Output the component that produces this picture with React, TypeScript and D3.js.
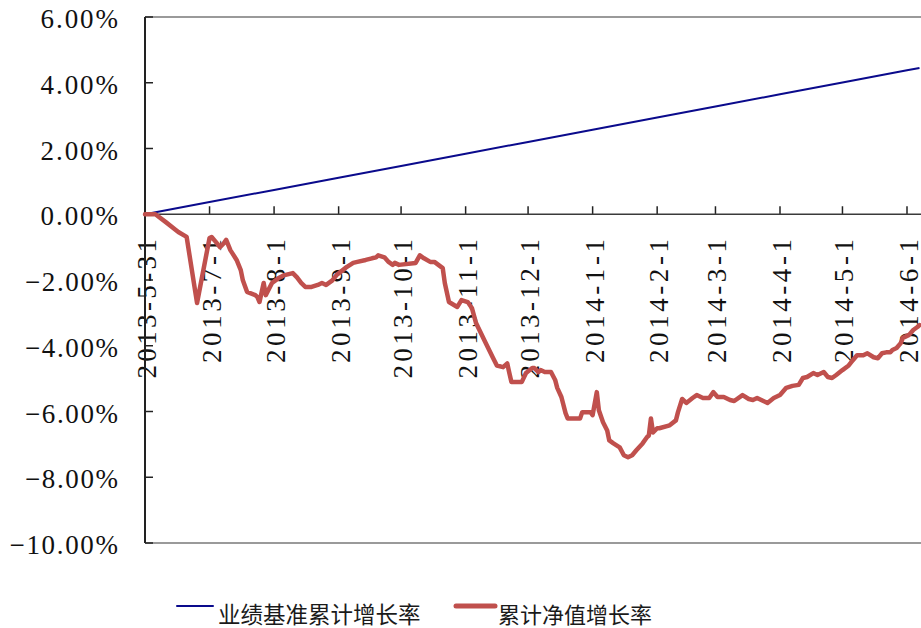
import { useEffect, useRef } from 'react'
import * as d3 from 'd3'

const W = 921
const H = 628
const PLOT = { left: 145, right: 921, top: 17, bottom: 543 }
const COLOR_BENCH = '#0a0a8c'
const COLOR_NAV = '#c0504d'
const LABEL_FONT = "'Liberation Serif', 'Times New Roman', serif"
const CJK_FONT = "'Noto Sans CJK SC', 'Noto Sans', sans-serif"
const CHAR_W = 15.5

const Y_TICKS = [6, 4, 2, 0, -2, -4, -6, -8, -10]

const X_TICKS = [
  '2013-05-31', '2013-07-01', '2013-08-01', '2013-09-01', '2013-10-01',
  '2013-11-01', '2013-12-01', '2014-01-01', '2014-02-01', '2014-03-01',
  '2014-04-01', '2014-05-01', '2014-06-01',
]

const LEGEND = ['业绩基准累计增长率', '累计净值增长率']

// 业绩基准累计增长率 (%)
const BENCH: [string, number][] = [
  ['2013-05-31', 0], ['2013-07-01', 0.37], ['2013-08-01', 0.74], ['2013-09-01', 1.11],
  ['2013-10-01', 1.47], ['2013-11-01', 1.84], ['2013-12-01', 2.2], ['2014-01-01', 2.57],
  ['2014-02-01', 2.94], ['2014-03-01', 3.28], ['2014-04-01', 3.65], ['2014-05-01', 4.01],
  ['2014-06-01', 4.38], ['2014-06-07', 4.45],
]

// 累计净值增长率 (%)
const NAV: [string, number][] = [
  ['2013-05-31', 0], ['2013-06-05', 0], ['2013-06-10', -0.24], ['2013-06-16', -0.54],
  ['2013-06-20', -0.69], ['2013-06-25', -2.7], ['2013-07-01', -0.72], ['2013-07-02', -0.69],
  ['2013-07-04', -0.84], ['2013-07-06', -1.0], ['2013-07-08', -0.87], ['2013-07-09', -0.78],
  ['2013-07-11', -1.09], ['2013-07-12', -1.19], ['2013-07-14', -1.39], ['2013-07-16', -1.7],
  ['2013-07-17', -2.01], ['2013-07-19', -2.36], ['2013-07-23', -2.46], ['2013-07-24', -2.52],
  ['2013-07-25', -2.67], ['2013-07-27', -2.09], ['2013-07-28', -2.46], ['2013-07-31', -2.09],
  ['2013-08-03', -1.95], ['2013-08-06', -1.85], ['2013-08-10', -1.79], ['2013-08-12', -1.92],
  ['2013-08-14', -2.09], ['2013-08-16', -2.21], ['2013-08-19', -2.21], ['2013-08-22', -2.15],
  ['2013-08-24', -2.09], ['2013-08-26', -2.15], ['2013-08-29', -2.01], ['2013-08-31', -1.85],
  ['2013-09-03', -1.7], ['2013-09-05', -1.6], ['2013-09-08', -1.48], ['2013-09-10', -1.45],
  ['2013-09-14', -1.39], ['2013-09-17', -1.34], ['2013-09-19', -1.31], ['2013-09-20', -1.25],
  ['2013-09-23', -1.31], ['2013-09-25', -1.45], ['2013-09-27', -1.54], ['2013-09-28', -1.48],
  ['2013-09-30', -1.54], ['2013-10-08', -1.48], ['2013-10-10', -1.25], ['2013-10-12', -1.34],
  ['2013-10-15', -1.45], ['2013-10-17', -1.45], ['2013-10-21', -1.64], ['2013-10-22', -2.09],
  ['2013-10-24', -2.67], ['2013-10-28', -2.82], ['2013-10-30', -2.61], ['2013-11-02', -2.67],
  ['2013-11-04', -2.85], ['2013-11-06', -3.31], ['2013-11-10', -3.83], ['2013-11-14', -4.35],
  ['2013-11-16', -4.6], ['2013-11-19', -4.65], ['2013-11-21', -4.54], ['2013-11-22', -4.83],
  ['2013-11-23', -5.1], ['2013-11-25', -5.1], ['2013-11-28', -5.1], ['2013-11-30', -4.83],
  ['2013-12-03', -4.68], ['2013-12-04', -4.68], ['2013-12-06', -4.8], ['2013-12-07', -4.74],
  ['2013-12-09', -4.8], ['2013-12-12', -4.8], ['2013-12-14', -5.04], ['2013-12-15', -5.28],
  ['2013-12-17', -5.56], ['2013-12-19', -6.05], ['2013-12-20', -6.21], ['2013-12-26', -6.21],
  ['2013-12-27', -6.02], ['2013-12-31', -6.02], ['2014-01-01', -6.11], ['2014-01-03', -5.41],
  ['2014-01-04', -5.96], ['2014-01-06', -6.33], ['2014-01-08', -6.58], ['2014-01-09', -6.88],
  ['2014-01-11', -6.97], ['2014-01-14', -7.09], ['2014-01-16', -7.33], ['2014-01-18', -7.39],
  ['2014-01-20', -7.33], ['2014-01-22', -7.18], ['2014-01-25', -6.97], ['2014-01-27', -6.79],
  ['2014-01-28', -6.73], ['2014-01-29', -6.21], ['2014-01-30', -6.64], ['2014-02-01', -6.51],
  ['2014-02-02', -6.51], ['2014-02-07', -6.42], ['2014-02-10', -6.27], ['2014-02-11', -6.02],
  ['2014-02-13', -5.62], ['2014-02-15', -5.74], ['2014-02-18', -5.59], ['2014-02-20', -5.5],
  ['2014-02-23', -5.59], ['2014-02-26', -5.59], ['2014-02-28', -5.41], ['2014-03-02', -5.56],
  ['2014-03-05', -5.56], ['2014-03-08', -5.65], ['2014-03-10', -5.68], ['2014-03-14', -5.5],
  ['2014-03-17', -5.62], ['2014-03-19', -5.65], ['2014-03-21', -5.59], ['2014-03-23', -5.65],
  ['2014-03-26', -5.74], ['2014-03-29', -5.59], ['2014-04-01', -5.5], ['2014-04-04', -5.28],
  ['2014-04-07', -5.22], ['2014-04-10', -5.19], ['2014-04-12', -4.98], ['2014-04-14', -4.95],
  ['2014-04-17', -4.83], ['2014-04-19', -4.89], ['2014-04-22', -4.8], ['2014-04-24', -4.95],
  ['2014-04-26', -4.98], ['2014-04-28', -4.89], ['2014-05-01', -4.74], ['2014-05-04', -4.6],
  ['2014-05-06', -4.44], ['2014-05-08', -4.29], ['2014-05-11', -4.29], ['2014-05-13', -4.23],
  ['2014-05-16', -4.35], ['2014-05-18', -4.38], ['2014-05-20', -4.23], ['2014-05-22', -4.2],
  ['2014-05-24', -4.2], ['2014-05-25', -4.13], ['2014-05-27', -4.07], ['2014-05-29', -3.92],
  ['2014-05-30', -3.76], ['2014-06-02', -3.67], ['2014-06-04', -3.52], ['2014-06-06', -3.43],
  ['2014-06-07', -3.37],
]

const parse = d3.timeParse('%Y-%m-%d')
const fmtDate = d3.timeFormat('%Y-%-m-%-d')
const fmtPct = (v: number) => d3.format('.2f')(v) + '%'

export default function App() {
  const ref = useRef<SVGSVGElement>(null)

  useEffect(() => {
    if (!ref.current) return
    const svg = d3.select(ref.current)
    svg.selectAll('*').remove()

    const x = d3.scaleTime()
      .domain([parse('2013-05-31')!, parse('2014-06-01')!])
      .range([PLOT.left, 907])

    const y = d3.scaleLinear()
      .domain([-10, 6])
      .range([PLOT.bottom, PLOT.top])

    const y0 = y(0)

    // ── Frame ─────────────────────────────────────────────────────────────
    svg.append('line')
      .attr('x1', PLOT.left).attr('x2', PLOT.right)
      .attr('y1', PLOT.top).attr('y2', PLOT.top)
      .attr('stroke', '#9a9a9a').attr('stroke-width', 2)
    svg.append('line')
      .attr('x1', PLOT.left).attr('x2', PLOT.right)
      .attr('y1', PLOT.bottom).attr('y2', PLOT.bottom)
      .attr('stroke', '#9a9a9a').attr('stroke-width', 2)

    // ── Y axis ────────────────────────────────────────────────────────────
    const yG = svg.append('g')
    yG.selectAll('line.tick')
      .data(Y_TICKS)
      .join('line')
      .attr('class', 'tick')
      .attr('x1', PLOT.left).attr('x2', PLOT.left + 8)
      .attr('y1', d => y(d)).attr('y2', d => y(d))
      .attr('stroke', '#222').attr('stroke-width', 1.5)
    yG.selectAll('text')
      .data(Y_TICKS)
      .join('text')
      .attr('x', 118)
      .attr('y', d => y(d) + 2)
      .attr('text-anchor', 'end')
      .attr('dominant-baseline', 'central')
      .style('font-family', LABEL_FONT)
      .style('font-size', '27px')
      .attr('fill', '#111')
      .attr('lengthAdjust', 'spacing')
      .attr('textLength', d => fmtPct(d).length * CHAR_W)
      .text(d => fmtPct(d))

    // ── X axis (at 0%) ────────────────────────────────────────────────────
    const xTicks = X_TICKS.map(s => parse(s)!)
    const xG = svg.append('g')
    xG.selectAll('line')
      .data(xTicks.slice(1))
      .join('line')
      .attr('x1', d => x(d)).attr('x2', d => x(d))
      .attr('y1', y0).attr('y2', y0 - 8)
      .attr('stroke', '#222').attr('stroke-width', 1.5)
    xG.selectAll('text')
      .data(xTicks)
      .join('text')
      .attr('transform', d => `translate(${x(d) + 2},239) rotate(-90)`)
      .attr('text-anchor', 'end')
      .attr('dominant-baseline', 'central')
      .style('font-family', LABEL_FONT)
      .style('font-size', '27px')
      .attr('fill', '#111')
      .attr('lengthAdjust', 'spacing')
      .attr('textLength', d => fmtDate(d).length * CHAR_W)
      .text(d => fmtDate(d))

    svg.append('line')
      .attr('x1', PLOT.left).attr('x2', PLOT.right)
      .attr('y1', y0).attr('y2', y0)
      .attr('stroke', '#3a3a3a').attr('stroke-width', 1.5)
    svg.append('line')
      .attr('x1', PLOT.left).attr('x2', PLOT.left)
      .attr('y1', PLOT.top).attr('y2', PLOT.bottom)
      .attr('stroke', '#222').attr('stroke-width', 2)

    // ── Lines ─────────────────────────────────────────────────────────────
    const line = d3.line<[string, number]>()
      .x(d => x(parse(d[0])!))
      .y(d => y(d[1]))

    svg.append('path')
      .datum(BENCH)
      .attr('d', line)
      .attr('fill', 'none')
      .attr('stroke', COLOR_BENCH)
      .attr('stroke-width', 2)

    svg.append('path')
      .datum(NAV)
      .attr('d', line)
      .attr('fill', 'none')
      .attr('stroke', COLOR_NAV)
      .attr('stroke-width', 4.5)
      .attr('stroke-linejoin', 'round')
      .attr('stroke-linecap', 'round')

    // ── Legend ────────────────────────────────────────────────────────────
    const legend = [
      { x1: 177, x2: 213, tx: 218, w: 2, color: COLOR_BENCH, label: LEGEND[0], size: 22.5 },
      { x1: 456, x2: 495, tx: 498, w: 5, color: COLOR_NAV, label: LEGEND[1], size: 22 },
    ]
    const lg = svg.append('g')
    lg.selectAll('line')
      .data(legend)
      .join('line')
      .attr('x1', d => d.x1).attr('x2', d => d.x2)
      .attr('y1', 606).attr('y2', 606)
      .attr('stroke', d => d.color)
      .attr('stroke-width', d => d.w)
      .attr('stroke-linecap', 'round')
    lg.selectAll('text')
      .data(legend)
      .join('text')
      .attr('x', d => d.tx)
      .attr('y', 623)
      .style('font-family', CJK_FONT)
      .style('font-size', d => `${d.size}px`)
      .attr('fill', '#1a1a1a')
      .text(d => d.label)
  }, [])

  return (
    <svg
      ref={ref}
      width={W}
      height={H}
      viewBox={`0 0 ${W} ${H}`}
      style={{ position: 'absolute', left: 0, top: 0, background: '#fff', display: 'block' }}
    />
  )
}
